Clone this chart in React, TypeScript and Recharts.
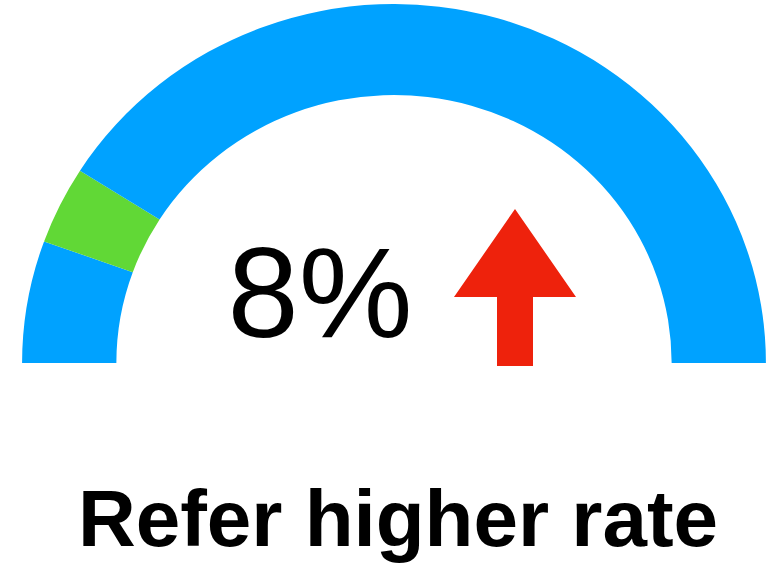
import { Cell, Pie, PieChart } from "recharts";

// gauge bands, in percent of the half circle (left to right)
const bandNames = ["below", "target", "above"];
const bandValues = [11, 7, 82];
const bandColors = ["#00A2FF", "#61D836", "#00A2FF"];

const rateLabel = "8%";
const caption = "Refer higher rate";

const data = bandNames.map((name, i) => ({ name, value: bandValues[i] }));

const W = 770;
const H = 565;
const CX = 394;
const CY = 363;

function UpArrow({ x, top, bottom }: { x: number; top: number; bottom: number }) {
  const headW = 61;
  const headH = 88;
  const stemW = 18;
  const d = [
    `M${x} ${top}`,
    `L${x + headW} ${top + headH}`,
    `L${x + stemW} ${top + headH}`,
    `L${x + stemW} ${bottom}`,
    `L${x - stemW} ${bottom}`,
    `L${x - stemW} ${top + headH}`,
    `L${x - headW} ${top + headH}`,
    "Z",
  ].join(" ");
  return <path d={d} fill="#EE220C" />;
}

export default function App() {
  return (
    <div style={{ position: "absolute", left: 0, top: 0, width: W, height: H, background: "#fff", overflow: "hidden" }}>
      {/* the original gauge is slightly wider than tall */}
      <div style={{ transform: "scaleX(1.036)", transformOrigin: `${CX}px ${CY}px` }}>
        <PieChart width={W} height={H} margin={{ top: 0, right: 0, bottom: 0, left: 0 }}>
          <Pie
            data={data}
            dataKey="value"
            nameKey="name"
            cx={CX}
            cy={CY}
            startAngle={180}
            endAngle={0}
            innerRadius={268}
            outerRadius={359}
            stroke="none"
            isAnimationActive={false}
          >
            {data.map((d, i) => (
              <Cell key={d.name + i} fill={bandColors[i]} />
            ))}
          </Pie>
        </PieChart>
      </div>
      <svg width={W} height={H} style={{ position: "absolute", left: 0, top: 0 }}>
        <text
          x={320}
          y={337}
          textAnchor="middle"
          fontFamily="'Liberation Sans', Arial, sans-serif"
          fontSize={128}
          fill="#000"
        >
          {rateLabel}
        </text>
        <UpArrow x={515} top={209} bottom={366} />
        <text
          x={398}
          y={546}
          textAnchor="middle"
          fontFamily="'Liberation Sans', Arial, sans-serif"
          fontWeight="bold"
          fontSize={80}
          fill="#000"
        >
          {caption}
        </text>
      </svg>
    </div>
  );
}
